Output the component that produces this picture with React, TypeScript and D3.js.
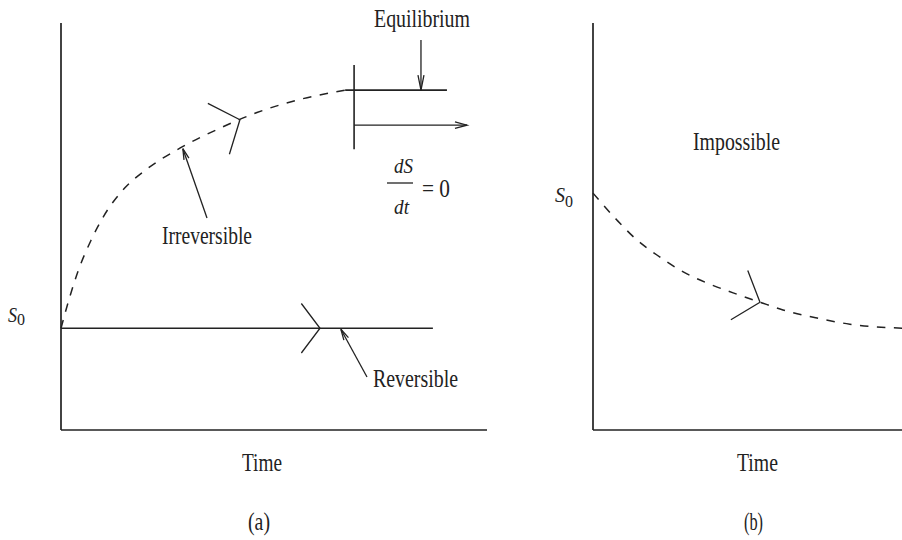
import React from "react";
import * as d3 from "d3";

const W = 902;
const H = 540;

// Panel (a): entropy against time
const irrevTime = [0, 0.2, 0.4, 0.7, 1.0, 1.5, 2.0, 2.8, 3.7, 4.6, 5.6, 6.67];
const irrevEntropy = [2.5, 3.25, 3.9, 4.65, 5.25, 5.95, 6.4, 6.93, 7.4, 7.8, 8.12, 8.35];
const s0A = 2.5;
const reversibleSpan = [0, 8.73];
const reversibleArrowAt = 6.08;
const irrevArrowAt = 4.2;
const irrevPointerAt = 2.86;
const revPointerAt = 6.57;
// Equilibrium marker: wall position, wall extent, level lines
const eqWallX = 6.88;
const eqWallY = [6.9, 8.97];
const eqLevel = 8.35;
const eqLevelEnd = 9.06;
const eqArrowY = 7.49;
const eqArrowEnd = 9.53;
const eqPointerX = 8.45;

// Panel (b): an entropy decrease
const impTime = [0, 0.56, 1.03, 1.5, 2.04, 2.68, 3.29, 3.92, 4.46, 5.26, 6.03, 7.3];
const impEntropy = [5.82, 5.16, 4.67, 4.3, 3.93, 3.61, 3.37, 3.14, 2.95, 2.75, 2.6, 2.5];
const impArrowAt = 3.92;

const INK = "#222";
const FONT = "'Liberation Serif', 'DejaVu Serif', serif";
const DASH = "8.5,8.5";

type Scale = d3.ScaleLinear<number, number>;

function chevron(xs: number[], ys: number[], t: number, sx: Scale, sy: Scale, len = 33, deg = 50) {
  const f = d3.scaleLinear().domain(xs).range(ys);
  const px = sx(t), py = sy(f(t));
  const ax = sx(t - 0.25), ay = sy(f(t - 0.25));
  const bx = sx(t + 0.25), by = sy(f(t + 0.25));
  const back = Math.atan2(by - ay, bx - ax) + Math.PI;
  const th = (deg * Math.PI) / 180;
  const p1 = [px + len * Math.cos(back + th), py + len * Math.sin(back + th)];
  const p2 = [px + len * Math.cos(back - th), py + len * Math.sin(back - th)];
  return `M${p1[0]},${p1[1]}L${px},${py}L${p2[0]},${p2[1]}`;
}

function arrowHead(x1: number, y1: number, x2: number, y2: number, len = 12, hw = 3.2) {
  const a = Math.atan2(y2 - y1, x2 - x1);
  const bx = x2 - len * Math.cos(a), by = y2 - len * Math.sin(a);
  const nx = -Math.sin(a) * hw, ny = Math.cos(a) * hw;
  return `M${bx + nx},${by + ny}L${x2},${y2}L${bx - nx},${by - ny}`;
}

function Arrow({ x1, y1, x2, y2, len = 12, hw = 3.2 }: any) {
  return (
    <g stroke={INK} strokeWidth={1.3} fill="none">
      <line x1={x1} y1={y1} x2={x2} y2={y2} />
      <path d={arrowHead(x1, y1, x2, y2, len, hw)} />
    </g>
  );
}

function Label({ x, y, w, size = 25, italic = false, children }: any) {
  return (
    <text
      x={x}
      y={y}
      fontFamily={FONT}
      fontSize={size}
      fontStyle={italic ? "italic" : "normal"}
      fill={INK}
      textLength={w}
      lengthAdjust="spacingAndGlyphs"
    >
      {children}
    </text>
  );
}

export default function App() {
  const xA = d3.scaleLinear().domain([0, 10]).range([61, 487]);
  const yA = d3.scaleLinear().domain([0, 10]).range([430, 23]);
  const xB = d3.scaleLinear().domain([0, 10]).range([593, 1019]);
  const yB = yA;

  const lineA = d3
    .line<number>()
    .x((_, i) => xA(irrevTime[i]))
    .y((d) => yA(d))
    .curve(d3.curveMonotoneX);
  const lineB = d3
    .line<number>()
    .x((_, i) => xB(impTime[i]))
    .y((d) => yB(d))
    .curve(d3.curveMonotoneX);

  const irrevF = d3.scaleLinear().domain(irrevTime).range(irrevEntropy);

  return (
    <svg
      width={W}
      height={H}
      style={{ position: "absolute", left: 0, top: 0, background: "#fff" }}
    >
      <rect width={W} height={H} fill="#fff" />

      {/* Panel (a) axes */}
      <g stroke={INK} strokeWidth={1.7} fill="none">
        <line x1={xA(0)} y1={yA(10)} x2={xA(0)} y2={yA(0)} />
        <line x1={xA(0)} y1={yA(0)} x2={xA(10)} y2={yA(0)} />
      </g>

      {/* Reversible path */}
      <line
        x1={xA(reversibleSpan[0])}
        y1={yA(s0A)}
        x2={xA(reversibleSpan[1])}
        y2={yA(s0A)}
        stroke={INK}
        strokeWidth={1.6}
      />
      <path
        d={chevron([0, 10], [s0A, s0A], reversibleArrowAt, xA, yA, 31, 53)}
        stroke={INK}
        strokeWidth={1.3}
        fill="none"
      />

      {/* Irreversible path */}
      <path d={lineA(irrevEntropy) ?? ""} stroke={INK} strokeWidth={1.5} strokeDasharray={DASH} fill="none" />
      <path
        d={chevron(irrevTime, irrevEntropy, irrevArrowAt, xA, yA, 36, 50)}
        stroke={INK}
        strokeWidth={1.3}
        fill="none"
      />

      {/* Equilibrium marker */}
      <g stroke={INK} strokeWidth={1.6} fill="none">
        <line x1={xA(eqWallX)} y1={yA(eqWallY[0])} x2={xA(eqWallX)} y2={yA(eqWallY[1])} />
        <line x1={xA(irrevTime[irrevTime.length - 1])} y1={yA(eqLevel)} x2={xA(eqLevelEnd)} y2={yA(eqLevel)} />
      </g>
      <Arrow x1={xA(eqWallX)} y1={yA(eqArrowY)} x2={xA(eqArrowEnd)} y2={yA(eqArrowY)} len={12} hw={3.2} />
      <Arrow x1={xA(eqPointerX)} y1={40} x2={xA(eqPointerX)} y2={yA(eqLevel)} len={15} hw={3} />

      {/* Pointers to the curves */}
      <Arrow x1={207} y1={218} x2={xA(irrevPointerAt)} y2={yA(irrevF(irrevPointerAt)) + 2} len={11} hw={2.6} />
      <Arrow x1={367} y1={377} x2={xA(revPointerAt)} y2={yA(s0A) + 1} len={11} hw={2.6} />

      {/* Panel (a) text */}
      <Label x={374} y={27} w={96}>Equilibrium</Label>
      <Label x={394} y={173} w={19} size={20} italic>dS</Label>
      <line x1={387} y1={183} x2={413} y2={183} stroke={INK} strokeWidth={1.3} />
      <Label x={394} y={214} w={15} size={20} italic>dt</Label>
      <Label x={422} y={197} w={28}>= 0</Label>
      <Label x={162} y={244} w={90}>Irreversible</Label>
      <Label x={373} y={387} w={85}>Reversible</Label>
      <Label x={8} y={322} w={9} size={21} italic>S</Label>
      <Label x={17} y={325} w={8} size={17}>0</Label>
      <Label x={242} y={471} w={40}>Time</Label>
      <Label x={248} y={530} w={22}>(a)</Label>

      {/* Panel (b) axes */}
      <g stroke={INK} strokeWidth={1.7} fill="none">
        <line x1={xB(0)} y1={yB(10)} x2={xB(0)} y2={yB(0)} />
        <line x1={xB(0)} y1={yB(0)} x2={xB(10)} y2={yB(0)} />
      </g>

      {/* Impossible path */}
      <path d={lineB(impEntropy) ?? ""} stroke={INK} strokeWidth={1.5} strokeDasharray={DASH} fill="none" />
      <path
        d={chevron(impTime, impEntropy, impArrowAt, xB, yB, 34, 50)}
        stroke={INK}
        strokeWidth={1.3}
        fill="none"
      />

      {/* Panel (b) text */}
      <Label x={693} y={150} w={87}>Impossible</Label>
      <Label x={555} y={202} w={10} size={21} italic>S</Label>
      <Label x={565} y={207} w={8} size={17}>0</Label>
      <Label x={737} y={471} w={41}>Time</Label>
      <Label x={744} y={530} w={19}>(b)</Label>
    </svg>
  );
}
